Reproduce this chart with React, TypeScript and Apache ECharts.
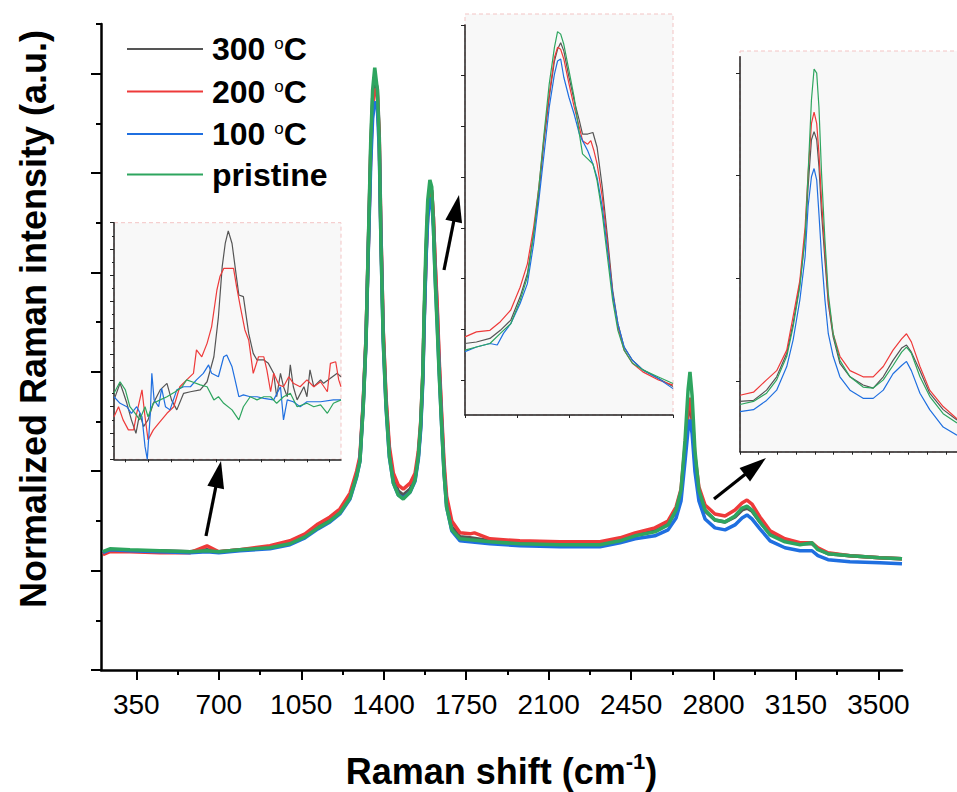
import React, { useEffect, useRef } from 'react';
import * as echarts from 'echarts';

// ---------- names, colours ----------
const seriesNames = ['300 °C', '200 °C', '100 °C', 'pristine'];
const seriesColors = ['#555555', '#ee3a3a', '#1f6fe0', '#2ea55f'];

// ---------- main spectra [Raman shift, normalized intensity] ----------
const mainGray = [[208,1.18],[238,1.21],[323,1.20],[450,1.20],[578,1.19],[650,1.21],[700,1.19],[790,1.21],[917,1.23],[1002,1.28],[1066,1.35],[1121,1.45],[1172,1.52],[1214,1.60],[1257,1.75],[1285,1.97],[1299,2.12],[1313,2.68],[1325,3.35],[1335,4.30],[1345,5.25],[1353,5.75],[1362,5.95],[1373,5.85],[1381,5.40],[1388,4.45],[1398,3.40],[1410,2.70],[1424,2.20],[1441,1.92],[1462,1.80],[1483,1.76],[1512,1.82],[1533,1.93],[1547,2.15],[1557,2.45],[1566,2.95],[1572,3.55],[1580,4.20],[1587,4.62],[1596,4.85],[1604,4.82],[1611,4.55],[1618,4.10],[1627,3.62],[1636,3.05],[1646,2.52],[1656,2.03],[1667,1.68],[1689,1.44],[1724,1.34],[1766,1.33],[1851,1.30],[1978,1.28],[2148,1.27],[2318,1.27],[2403,1.31],[2467,1.36],[2551,1.40],[2607,1.47],[2641,1.60],[2662,1.78],[2679,2.20],[2692,2.58],[2700,2.68],[2709,2.52],[2721,2.10],[2738,1.78],[2764,1.60],[2806,1.51],[2849,1.49],[2891,1.54],[2921,1.61],[2942,1.63],[2963,1.60],[2997,1.49],[3040,1.37],[3103,1.30],[3167,1.27],[3218,1.27],[3243,1.22],[3286,1.17],[3379,1.15],[3506,1.13],[3600,1.12]];
const mainRed = [[208,1.16],[238,1.19],[323,1.19],[450,1.18],[578,1.18],[650,1.25],[700,1.19],[790,1.21],[917,1.25],[1002,1.30],[1066,1.37],[1121,1.47],[1172,1.54],[1214,1.62],[1257,1.78],[1285,2.00],[1299,2.15],[1313,2.70],[1325,3.35],[1335,4.28],[1345,5.20],[1353,5.68],[1362,5.85],[1373,5.78],[1381,5.35],[1388,4.42],[1398,3.42],[1410,2.74],[1424,2.25],[1441,1.98],[1462,1.86],[1483,1.82],[1512,1.88],[1533,1.98],[1547,2.20],[1557,2.50],[1566,2.98],[1572,3.55],[1580,4.18],[1587,4.60],[1596,4.82],[1604,4.80],[1611,4.55],[1618,4.12],[1627,3.68],[1636,3.10],[1646,2.58],[1656,2.10],[1667,1.75],[1689,1.50],[1724,1.38],[1766,1.37],[1785,1.38],[1851,1.32],[1978,1.30],[2148,1.29],[2318,1.29],[2403,1.33],[2467,1.38],[2551,1.43],[2607,1.50],[2641,1.64],[2662,1.82],[2679,2.25],[2692,2.62],[2700,2.74],[2709,2.58],[2721,2.15],[2738,1.84],[2764,1.66],[2806,1.57],[2849,1.55],[2891,1.61],[2921,1.68],[2942,1.71],[2963,1.67],[2997,1.54],[3040,1.40],[3103,1.32],[3167,1.28],[3218,1.28],[3243,1.23],[3286,1.18],[3379,1.15],[3506,1.13],[3600,1.12]];
const mainBlue = [[208,1.18],[238,1.21],[323,1.20],[450,1.19],[578,1.18],[650,1.19],[700,1.18],[790,1.20],[917,1.22],[1002,1.26],[1066,1.33],[1121,1.42],[1172,1.49],[1214,1.57],[1257,1.72],[1285,1.94],[1299,2.10],[1313,2.65],[1325,3.30],[1335,4.25],[1345,5.10],[1353,5.55],[1362,5.72],[1373,5.65],[1381,5.25],[1388,4.35],[1398,3.30],[1410,2.64],[1424,2.14],[1441,1.88],[1462,1.76],[1483,1.73],[1512,1.79],[1533,1.90],[1547,2.12],[1557,2.42],[1566,2.90],[1572,3.50],[1580,4.15],[1587,4.55],[1596,4.75],[1604,4.72],[1611,4.45],[1618,3.98],[1627,3.50],[1636,2.98],[1646,2.46],[1656,1.99],[1667,1.64],[1689,1.40],[1724,1.30],[1766,1.29],[1851,1.27],[1978,1.25],[2148,1.24],[2318,1.24],[2403,1.28],[2467,1.32],[2551,1.35],[2607,1.41],[2641,1.53],[2662,1.70],[2679,2.10],[2692,2.42],[2700,2.52],[2709,2.38],[2721,2.00],[2738,1.70],[2764,1.52],[2806,1.43],[2849,1.41],[2891,1.46],[2921,1.53],[2942,1.56],[2963,1.52],[2997,1.42],[3040,1.30],[3103,1.23],[3167,1.20],[3218,1.20],[3243,1.15],[3286,1.11],[3379,1.09],[3506,1.08],[3600,1.07]];
const mainGreen = [[208,1.19],[238,1.22],[323,1.21],[450,1.20],[578,1.19],[650,1.20],[700,1.19],[790,1.21],[917,1.23],[1002,1.27],[1066,1.34],[1121,1.43],[1172,1.50],[1214,1.58],[1257,1.73],[1285,1.95],[1299,2.10],[1313,2.65],[1325,3.32],[1335,4.33],[1345,5.33],[1353,5.84],[1362,6.06],[1373,5.84],[1381,5.33],[1388,4.33],[1398,3.32],[1410,2.65],[1424,2.15],[1441,1.88],[1462,1.76],[1483,1.72],[1512,1.79],[1533,1.91],[1547,2.15],[1557,2.48],[1566,2.99],[1572,3.65],[1580,4.33],[1587,4.73],[1596,4.93],[1604,4.86],[1611,4.46],[1618,3.95],[1627,3.45],[1636,2.95],[1646,2.45],[1656,1.98],[1667,1.64],[1689,1.41],[1724,1.32],[1766,1.31],[1851,1.29],[1978,1.27],[2148,1.26],[2318,1.26],[2403,1.30],[2467,1.35],[2551,1.39],[2607,1.46],[2641,1.61],[2662,1.81],[2679,2.31],[2692,2.82],[2700,3.00],[2709,2.76],[2721,2.21],[2738,1.81],[2764,1.61],[2806,1.51],[2849,1.49],[2891,1.55],[2921,1.63],[2942,1.65],[2963,1.61],[2997,1.49],[3040,1.36],[3103,1.29],[3167,1.26],[3218,1.28],[3243,1.21],[3286,1.17],[3379,1.15],[3506,1.13],[3600,1.12]];

// ---------- inset 1 (low-wavenumber region) ----------
const inset1Gray = [[495,2.26],[503,2.89],[507,2.57],[512,2.13],[518,1.50],[524,0.99],[529,1.75],[534,1.24],[540,1.50],[547,2.13],[556,2.64],[565,2.89],[571,2.26],[578,1.88],[587,2.51],[596,2.57],[609,2.64],[618,2.95],[627,3.90],[633,5.42],[638,7.33],[642,8.21],[646,8.69],[651,8.21],[655,7.33],[660,6.25],[666,6.19],[673,4.79],[679,4.03],[684,3.78],[693,3.78],[699,3.65],[706,3.27],[710,2.38],[715,3.27],[719,2.76],[724,2.38],[728,3.59],[732,2.76],[737,2.26],[746,2.76],[750,2.38],[754,3.40],[759,2.76],[768,3.02],[772,2.89],[781,3.08],[790,3.27],[795,3.14]];
const inset1Red = [[495,1.62],[501,2.00],[507,1.50],[514,1.12],[521,1.12],[525,1.75],[532,2.64],[536,1.62],[540,0.74],[547,1.12],[554,1.37],[565,1.75],[574,2.00],[582,2.76],[591,3.02],[600,3.27],[604,4.16],[611,3.90],[618,4.41],[624,5.04],[631,6.44],[635,6.95],[640,7.26],[646,7.26],[653,7.26],[657,6.57],[662,5.80],[668,4.92],[673,4.54],[679,3.27],[686,3.90],[693,3.90],[697,3.40],[702,2.57],[706,3.27],[713,2.83],[719,2.76],[726,3.14],[732,2.89],[741,2.76],[750,3.02],[759,2.76],[768,2.95],[777,2.57],[781,3.65],[788,3.71],[792,3.02],[795,2.76]];
const inset1Blue = [[495,2.38],[503,2.13],[512,2.00],[518,1.75],[525,2.00],[532,1.62],[536,0.48],[539,0.00],[543,1.75],[545,3.27],[548,2.26],[554,2.00],[558,2.70],[563,2.00],[569,1.88],[578,2.64],[587,2.76],[596,2.76],[604,3.02],[613,3.27],[620,3.59],[624,3.27],[633,3.14],[640,3.90],[644,3.97],[651,3.52],[655,3.02],[660,2.38],[666,2.45],[675,2.38],[684,2.38],[693,2.32],[706,2.26],[715,2.76],[719,1.50],[724,2.26],[732,2.19],[741,2.00],[750,2.19],[768,2.19],[785,2.26],[795,2.26]];
const inset1Green = [[495,2.51],[503,2.95],[510,2.64],[516,2.00],[523,1.75],[529,1.50],[536,2.00],[540,1.62],[547,2.13],[556,2.26],[565,2.38],[576,2.57],[585,2.76],[591,3.02],[598,2.95],[609,2.83],[618,2.76],[627,2.26],[633,2.38],[640,2.13],[651,1.88],[660,1.50],[666,2.00],[675,2.38],[684,2.26],[693,2.38],[702,2.38],[710,2.13],[719,2.38],[728,2.51],[737,2.00],[750,2.13],[759,2.00],[768,2.07],[777,1.75],[785,2.13],[795,2.26]];

// ---------- inset 2 (G band) ----------
const inset2Gray = [[1500,1.72],[1511,1.75],[1524,1.82],[1534,1.98],[1544,2.18],[1553,2.64],[1560,3.10],[1566,3.88],[1571,4.67],[1576,5.72],[1581,6.57],[1586,7.29],[1589,7.52],[1592,7.65],[1595,7.49],[1600,6.97],[1605,6.51],[1610,6.11],[1613,5.85],[1618,5.85],[1623,5.88],[1627,5.59],[1632,4.80],[1637,3.82],[1642,2.77],[1647,2.11],[1653,1.65],[1661,1.39],[1671,1.20],[1686,1.03],[1700,0.87]];
const inset2Red = [[1500,1.85],[1511,1.95],[1524,1.98],[1534,2.15],[1544,2.38],[1553,2.83],[1560,3.29],[1566,4.01],[1571,4.80],[1576,5.79],[1581,6.64],[1586,7.36],[1589,7.56],[1592,7.52],[1595,7.33],[1600,6.84],[1605,6.38],[1610,5.98],[1613,5.72],[1618,5.65],[1621,5.72],[1624,5.52],[1627,5.26],[1632,4.61],[1637,3.69],[1642,2.70],[1647,2.05],[1653,1.59],[1661,1.33],[1671,1.16],[1686,1.00],[1700,0.90]];
const inset2Blue = [[1500,1.56],[1511,1.65],[1524,1.72],[1531,1.69],[1537,1.92],[1544,2.11],[1553,2.51],[1560,2.90],[1566,3.69],[1571,4.54],[1576,5.46],[1581,6.38],[1586,7.03],[1589,7.29],[1592,7.33],[1595,6.97],[1600,6.57],[1605,6.24],[1610,5.85],[1613,5.72],[1618,5.52],[1623,5.26],[1627,4.99],[1632,4.41],[1637,3.56],[1642,2.70],[1647,2.11],[1653,1.65],[1661,1.39],[1671,1.20],[1686,1.03],[1700,0.83]];
const inset2Green = [[1500,1.59],[1511,1.65],[1524,1.72],[1534,1.92],[1544,2.11],[1553,2.57],[1560,3.03],[1566,3.88],[1571,4.80],[1576,5.85],[1581,6.84],[1586,7.56],[1589,7.87],[1592,7.82],[1595,7.62],[1600,7.10],[1605,6.57],[1610,5.85],[1613,5.46],[1618,5.36],[1623,5.26],[1627,4.93],[1632,4.28],[1637,3.42],[1642,2.57],[1647,1.98],[1653,1.59],[1661,1.33],[1671,1.20],[1686,1.06],[1700,0.93]];

// ---------- inset 3 (2D and D+G bands) ----------
const inset3Gray = [[2500,0.80],[2536,0.81],[2571,0.91],[2598,1.04],[2625,1.27],[2642,1.56],[2660,1.95],[2674,2.40],[2682,2.89],[2691,3.35],[2698,3.43],[2705,3.35],[2711,3.09],[2718,2.63],[2727,2.18],[2736,1.75],[2749,1.43],[2767,1.17],[2794,1.04],[2829,0.96],[2856,0.93],[2883,1.04],[2909,1.20],[2932,1.32],[2945,1.35],[2958,1.28],[2981,1.10],[3007,0.88],[3043,0.72],[3080,0.62]];
const inset3Red = [[2500,0.86],[2536,0.89],[2571,1.01],[2598,1.10],[2625,1.30],[2642,1.63],[2660,1.98],[2674,2.50],[2682,3.02],[2691,3.51],[2698,3.62],[2705,3.51],[2711,3.22],[2718,2.76],[2727,2.27],[2736,1.79],[2749,1.46],[2767,1.24],[2794,1.10],[2829,1.04],[2856,1.04],[2883,1.14],[2909,1.30],[2932,1.41],[2945,1.46],[2958,1.38],[2981,1.14],[3007,0.91],[3043,0.75],[3080,0.63]];
const inset3Blue = [[2500,0.70],[2536,0.72],[2571,0.81],[2598,0.91],[2625,1.14],[2642,1.40],[2660,1.79],[2674,2.21],[2682,2.70],[2691,2.99],[2698,3.07],[2705,2.96],[2711,2.63],[2718,2.21],[2727,1.79],[2736,1.46],[2749,1.24],[2767,1.04],[2794,0.91],[2829,0.83],[2856,0.83],[2883,0.91],[2909,1.07],[2932,1.15],[2945,1.19],[2958,1.10],[2981,0.88],[3007,0.72],[3043,0.55],[3080,0.47]];
const inset3Green = [[2500,0.77],[2536,0.80],[2571,0.88],[2598,1.01],[2625,1.24],[2642,1.53],[2660,1.92],[2674,2.40],[2682,3.02],[2691,3.74],[2698,4.04],[2705,4.00],[2711,3.67],[2718,3.02],[2727,2.37],[2736,1.85],[2749,1.46],[2767,1.20],[2794,1.04],[2829,0.94],[2856,0.93],[2883,1.01],[2909,1.15],[2932,1.28],[2945,1.33],[2958,1.27],[2981,1.04],[3007,0.85],[3043,0.68],[3080,0.59]];

// ---------- ticks ----------
const mainXMajor = [350, 700, 1050, 1400, 1750, 2100, 2450, 2800, 3150, 3500];
const mainXMinor = [525, 875, 1225, 1575, 1925, 2275, 2625, 2975, 3325];
const mainYMajor = [0, 1, 2, 3, 4, 5, 6];
const mainYMinor = [0.5, 1.5, 2.5, 3.5, 4.5, 5.5, 6.5];
const inset1XTicks = [510, 540, 570, 600, 630, 660, 690, 720, 750, 780];
const inset1YMajor = [0, 1, 2, 3, 4, 5, 6, 7, 8, 9];
const inset1YMinor = [0.5, 1.5, 2.5, 3.5, 4.5, 5.5, 6.5, 7.5, 8.5];
const inset2XTicks = [1500, 1550, 1600, 1650, 1700];
const inset2YTicks = [1, 2, 3, 4, 5, 6, 7, 8];
const inset3XTicks = [2500, 2550, 2600, 2650, 2700, 2750, 2800, 2850, 2900, 2950, 3000, 3050];
const inset3YTicks = [1, 2, 3, 4];

const FONT = '"Liberation Sans", Arial, sans-serif';

function arrow(tail: number[], tip: number[]) {
  const dx = tip[0] - tail[0];
  const dy = tip[1] - tail[1];
  const len = Math.hypot(dx, dy);
  const ux = dx / len, uy = dy / len;
  const headLen = 27, half = 8.5;
  const bx = tip[0] - ux * headLen, by = tip[1] - uy * headLen;
  return [
    { type: 'line', shape: { x1: tail[0], y1: tail[1], x2: bx + ux * 3, y2: by + uy * 3 }, style: { stroke: '#000', lineWidth: 3.2 } },
    { type: 'polygon', shape: { points: [[tip[0], tip[1]], [bx - uy * half, by + ux * half], [bx + uy * half, by - ux * half]] }, style: { fill: '#000' } },
  ];
}

export default function App() {
  const ref = useRef<HTMLDivElement>(null);
  useEffect(() => {
    if (!ref.current) return;
    const chart = echarts.init(ref.current, null, { renderer: 'svg' });

    const insetAxisLine = { show: true, lineStyle: { color: '#222', width: 1.5 } };
    const mkSeries = (datasets: number[][][], xi: number, yi: number, w: number) =>
      datasets.map((d, i) => ({
        type: 'line', name: seriesNames[i], data: d, xAxisIndex: xi, yAxisIndex: yi,
        showSymbol: false, symbol: 'none', lineStyle: { color: seriesColors[i], width: w },
        itemStyle: { color: seriesColors[i] }, silent: true,
      }));

    const option: any = {
      animation: false,
      backgroundColor: '#fff',
      grid: [
        { left: 101, top: 24, width: 801, height: 646, outerBoundsMode: 'none' },
        { left: 114, top: 222.7, width: 227, height: 236.6, outerBoundsMode: 'none' },
        { left: 465, top: 25, width: 208, height: 390, outerBoundsMode: 'none' },
        { left: 740, top: 56.7, width: 217, height: 395, outerBoundsMode: 'none' },
      ],
      legend: {
        orient: 'vertical', left: 122, top: 26, itemWidth: 76, itemHeight: 2, itemGap: 8.5,
        icon: 'rect', data: seriesNames, selectedMode: false,
        formatter: (name: string) => {
          const m = name.match(/^(\d+) °C$/);
          return m ? `{n|${m[1]} }{o|o}{n|C}` : `{n|${name}}`;
        },
        textStyle: {
          padding: [0, 0, 0, 4],
          rich: {
            n: { fontFamily: FONT, fontSize: 32, fontWeight: 'bold', color: '#000', lineHeight: 36 },
            o: { fontFamily: FONT, fontSize: 17, color: '#000', verticalAlign: 'top', lineHeight: 36, padding: [4, 0, 0, 0] },
          },
        },
      },
      xAxis: [
        {
          type: 'value', gridIndex: 0, min: 200, max: 3600,
          axisLine: { show: true, lineStyle: { color: '#000', width: 2.5 } },
          axisTick: { show: true, customValues: mainXMajor, length: 10, lineStyle: { color: '#000', width: 2 } },
          axisLabel: {
            show: true, customValues: mainXMajor, margin: 20, color: '#000', fontSize: 28, fontFamily: FONT,
            formatter: (v: number) => String(v),
          },
          splitLine: { show: false },
          name: '{b|Raman shift (cm}{s|-1}{b|)}', nameLocation: 'middle', nameGap: 80,
          nameTextStyle: {
            rich: {
              b: { fontFamily: FONT, fontSize: 36, fontWeight: 'bold', color: '#000', lineHeight: 42 },
              s: { fontFamily: FONT, fontSize: 22, fontWeight: 'bold', color: '#000', verticalAlign: 'top', lineHeight: 42 },
            },
          },
        },
        {
          type: 'value', gridIndex: 0, min: 200, max: 3600, position: 'bottom',
          axisLine: { show: false },
          axisTick: { show: true, customValues: mainXMinor, length: 5, lineStyle: { color: '#000', width: 2 } },
          axisLabel: { show: false }, splitLine: { show: false },
        },
        {
          type: 'value', gridIndex: 1, min: 495, max: 795, axisLine: insetAxisLine,
          axisTick: { show: true, customValues: inset1XTicks, length: 3, lineStyle: { color: '#222', width: 1 } },
          axisLabel: { show: false }, splitLine: { show: false },
        },
        {
          type: 'value', gridIndex: 2, min: 1500, max: 1700, axisLine: insetAxisLine,
          axisTick: { show: true, customValues: inset2XTicks, length: 3, lineStyle: { color: '#222', width: 1 } },
          axisLabel: { show: false }, splitLine: { show: false },
        },
        {
          type: 'value', gridIndex: 3, min: 2500, max: 3080, axisLine: insetAxisLine,
          axisTick: { show: true, customValues: inset3XTicks, length: 3, lineStyle: { color: '#222', width: 1 } },
          axisLabel: { show: false }, splitLine: { show: false },
        },
      ],
      yAxis: [
        {
          type: 'value', gridIndex: 0, min: 0, max: 6.5,
          axisLine: { show: true, lineStyle: { color: '#000', width: 2.5 } },
          axisTick: { show: true, customValues: mainYMajor, length: 10, lineStyle: { color: '#000', width: 2 } },
          axisLabel: { show: false }, splitLine: { show: false },
        },
        {
          type: 'value', gridIndex: 0, min: 0, max: 6.5, position: 'left',
          axisLine: { show: false },
          axisTick: { show: true, customValues: mainYMinor, length: 5, lineStyle: { color: '#000', width: 2 } },
          axisLabel: { show: false }, splitLine: { show: false },
        },
        {
          type: 'value', gridIndex: 1, min: 0, max: 9, axisLine: insetAxisLine,
          axisTick: { show: true, customValues: inset1YMajor, length: 4, lineStyle: { color: '#222', width: 1 } },
          axisLabel: { show: false }, splitLine: { show: false },
        },
        {
          type: 'value', gridIndex: 1, min: 0, max: 9, position: 'left', axisLine: { show: false },
          axisTick: { show: true, customValues: inset1YMinor, length: 2, lineStyle: { color: '#222', width: 1 } },
          axisLabel: { show: false }, splitLine: { show: false },
        },
        {
          type: 'value', gridIndex: 2, min: 0.31, max: 8, axisLine: insetAxisLine,
          axisTick: { show: true, customValues: inset2YTicks, length: 4, lineStyle: { color: '#222', width: 1 } },
          axisLabel: { show: false }, splitLine: { show: false },
        },
        {
          type: 'value', gridIndex: 3, min: 0.31, max: 4.16, axisLine: insetAxisLine,
          axisTick: { show: true, customValues: inset3YTicks, length: 4, lineStyle: { color: '#222', width: 1 } },
          axisLabel: { show: false }, splitLine: { show: false },
        },
      ],
      series: [
        ...mkSeries([mainGray, mainRed, mainBlue, mainGreen], 0, 0, 3.5),
        ...mkSeries([inset1Gray, inset1Red, inset1Blue, inset1Green], 2, 2, 1.2),
        ...mkSeries([inset2Gray, inset2Red, inset2Blue, inset2Green], 3, 4, 1.2),
        ...mkSeries([inset3Gray, inset3Red, inset3Blue, inset3Green], 4, 5, 1.2),
      ],
      graphic: [
        { type: 'rect', z: -1, shape: { x: 114, y: 222.7, width: 227, height: 236.6 }, style: { fill: '#f8f8f8', stroke: '#f3c4c4', lineWidth: 1, lineDash: [4, 3] } },
        { type: 'rect', z: -1, shape: { x: 465, y: 14, width: 208, height: 401 }, style: { fill: '#f8f8f8', stroke: '#f3c4c4', lineWidth: 1, lineDash: [4, 3] } },
        { type: 'rect', z: -1, shape: { x: 740, y: 51, width: 230, height: 401 }, style: { fill: '#f8f8f8', stroke: '#f3c4c4', lineWidth: 1, lineDash: [4, 3] } },
        ...arrow([206, 536], [221, 461]),
        ...arrow([444, 270], [459, 195]),
        ...arrow([714, 499], [766, 458]),
        {
          type: 'text', x: 33, y: 319, rotation: Math.PI / 2,
          style: { text: 'Normalized Raman intensity (a.u.)', font: `bold 36px ${FONT}`, fill: '#000', align: 'center', verticalAlign: 'middle' },
        },
      ],
    };
    chart.setOption(option);
    return () => chart.dispose();
  }, []);
  return <div ref={ref} style={{ position: 'fixed', left: 0, top: 0, width: 957, height: 792 }} />;
}
